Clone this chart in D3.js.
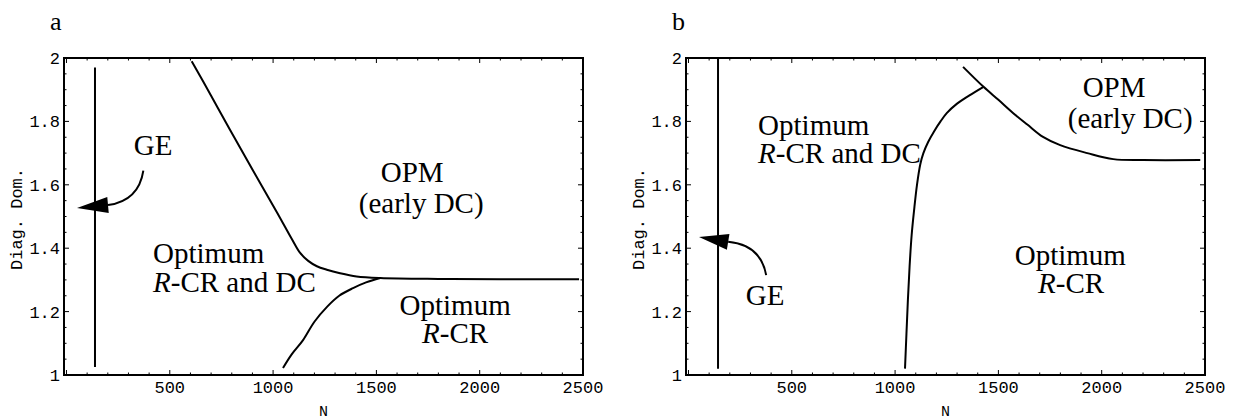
<!DOCTYPE html>
<html>
<head>
<meta charset="utf-8">
<script src="https://cdn.jsdelivr.net/npm/d3@7"></script>
<style>
  body { margin: 0; background: #fff; }
  .tick-label { font-family: "Liberation Mono", "DejaVu Sans Mono", monospace; font-size: 17px; fill: #000; }
  .region { font-family: "Liberation Serif", "DejaVu Serif", serif; font-size: 29px; fill: #000; }
  .panel-label { font-family: "Liberation Serif", serif; font-size: 26px; fill: #000; }
</style>
</head>
<body>
<div id="chart"></div>
<script>
var width = 1235;
var height = 420;

// axis ticks
var xTicks = [500, 1000, 1500, 2000, 2500];
var yTicks = [1, 1.2, 1.4, 1.6, 1.8, 2];
var xMinor = d3.range(0, 2501, 100);
var yMinor = d3.range(1, 2.001, 0.05);

// panel a : boundaries (N, diag. dom.)
var geLineA = [[138, 1.025], [138, 1.97]];
var opmBoundA = [[606, 1.99], [700, 1.881], [792, 1.773], [900, 1.648], [1019, 1.513],
  [1090, 1.43], [1131, 1.385], [1170, 1.36], [1212, 1.343], [1260, 1.332],
  [1324, 1.321], [1404, 1.311], [1519, 1.306], [1800, 1.303], [2100, 1.302], [2481, 1.302]];
var rcrBoundA = [[1048, 1.022], [1090, 1.065], [1145, 1.11], [1200, 1.168], [1261, 1.215],
  [1320, 1.25], [1387, 1.274], [1450, 1.292], [1519, 1.306]];
var arrowA = [[372, 1.645], [350, 1.55], [201, 1.536], [51, 1.527]]; // tail, ctrl, base, tip

// panel b
var geLineB = [[143, 1.02], [143, 2.0]];
var opmBoundB = [[1329, 1.972], [1428, 1.909], [1500, 1.868], [1572, 1.826], [1640, 1.79],
  [1716, 1.751], [1799, 1.725], [1930, 1.70], [2056, 1.681], [2200, 1.678], [2477, 1.678]];
var rcrBoundB = [[1048, 1.02], [1055, 1.13], [1062, 1.237], [1070, 1.34], [1080, 1.44],
  [1092, 1.52], [1106, 1.6], [1122, 1.665], [1137, 1.70], [1160, 1.735], [1190, 1.77],
  [1220, 1.80], [1250, 1.826], [1300, 1.856], [1360, 1.882], [1428, 1.909]];
var arrowB = [[376, 1.315], [350, 1.41], [192, 1.42], [51, 1.435]];

// region labels: text lines, anchor point in data units
var labelsA = [
  {t: "GE", n: 419, v: 1.694, a: "middle"},
  {t: "Optimum", n: 419, v: 1.353, a: "start"},
  {t: "R-CR and DC", n: 419, v: 1.262, a: "start"},
  {t: "OPM", n: 1673, v: 1.609, a: "middle"},
  {t: "(early DC)", n: 1717, v: 1.511, a: "middle"},
  {t: "Optimum", n: 1881, v: 1.189, a: "middle"},
  {t: "R-CR", n: 1881, v: 1.101, a: "middle"}
];
var labelsB = [
  {t: "Optimum", n: 337, v: 1.757, a: "start"},
  {t: "R-CR and DC", n: 337, v: 1.669, a: "start"},
  {t: "OPM", n: 2060, v: 1.877, a: "middle"},
  {t: "(early DC)", n: 2138, v: 1.779, a: "middle"},
  {t: "Optimum", n: 1848, v: 1.347, a: "middle"},
  {t: "R-CR", n: 1852, v: 1.259, a: "middle"},
  {t: "GE", n: 371, v: 1.221, a: "middle"}
];

var svg = d3.select("#chart")
  .append("svg")
  .attr("width", width)
  .attr("height", height);

var panels = [
  {name: "a", left: 64, right: 583, ge: geLineA, opm: opmBoundA, rcr: rcrBoundA, arrow: arrowA, labels: labelsA},
  {name: "b", left: 686, right: 1205, ge: geLineB, opm: opmBoundB, rcr: rcrBoundB, arrow: arrowB, labels: labelsB}
];
var plotTop = 58, plotBottom = 375;

panels.forEach(function(p) {
  var x = d3.scaleLinear().domain([-12, 2500]).range([p.left, p.right]);
  var y = d3.scaleLinear().domain([1, 2]).range([plotBottom, plotTop]);
  var g = svg.append("g").attr("class", "panel-" + p.name);

  // panel letter
  g.append("text").attr("class", "panel-label")
    .attr("x", p.left - 14).attr("y", 30).text(p.name);

  // frame
  g.append("rect")
    .attr("x", x.range()[0]).attr("y", plotTop)
    .attr("width", x.range()[1] - x.range()[0]).attr("height", plotBottom - plotTop)
    .attr("fill", "none").attr("stroke", "#000").attr("stroke-width", 2);

  // inward ticks, all four sides
  var tk = g.append("g").attr("stroke", "#000").attr("stroke-width", 1);
  xMinor.forEach(function(n) {
    var len = n % 500 === 0 ? 5 : 2.5;
    tk.append("line").attr("x1", x(n)).attr("x2", x(n)).attr("y1", plotBottom).attr("y2", plotBottom - len);
    tk.append("line").attr("x1", x(n)).attr("x2", x(n)).attr("y1", plotTop).attr("y2", plotTop + len);
  });
  yMinor.forEach(function(v, i) {
    var len = i % 4 === 0 ? 5 : 2.5;
    tk.append("line").attr("y1", y(v)).attr("y2", y(v)).attr("x1", x.range()[0]).attr("x2", x.range()[0] + len);
    tk.append("line").attr("y1", y(v)).attr("y2", y(v)).attr("x1", x.range()[1]).attr("x2", x.range()[1] - len);
  });

  // tick labels
  g.selectAll(".xl").data(xTicks).enter().append("text")
    .attr("class", "tick-label")
    .attr("x", function(d) { return x(d); })
    .attr("y", plotBottom + 18)
    .attr("text-anchor", "middle")
    .text(function(d) { return d; });
  g.selectAll(".yl").data(yTicks).enter().append("text")
    .attr("class", "tick-label")
    .attr("x", x.range()[0] - 4)
    .attr("y", function(d) { return y(d); })
    .attr("dy", "0.35em")
    .attr("text-anchor", "end")
    .text(function(d) { return d3.format("~g")(d); });

  // axis titles
  g.append("text").attr("class", "tick-label")
    .style("font-size", "15px")
    .attr("x", (x.range()[0] + x.range()[1]) / 2).attr("y", 416)
    .attr("text-anchor", "middle").text("N");
  g.append("text").attr("class", "tick-label")
    .attr("transform", "translate(" + (x.range()[0] - 42) + "," + 219 + ") rotate(-90)")
    .attr("text-anchor", "middle").text("Diag. Dom.");

  // boundaries
  var line = d3.line()
    .x(function(d) { return x(d[0]); })
    .y(function(d) { return y(d[1]); })
    .curve(d3.curveCatmullRom.alpha(0.5));
  [p.ge, p.opm, p.rcr].forEach(function(pts) {
    g.append("path").attr("d", line(pts))
      .attr("fill", "none").attr("stroke", "#000").attr("stroke-width", 2);
  });

  // GE arrow
  var a = p.arrow.map(function(d) { return [x(d[0]), y(d[1])]; });
  g.append("path")
    .attr("d", "M" + a[0] + "Q" + a[1] + " " + a[2])
    .attr("fill", "none").attr("stroke", "#000").attr("stroke-width", 2);
  var dx = a[3][0] - a[2][0], dy = a[3][1] - a[2][1];
  var L = Math.sqrt(dx * dx + dy * dy), hw = 8;
  var px = -dy / L * hw, py = dx / L * hw;
  g.append("path")
    .attr("d", "M" + a[3] + "L" + [a[2][0] + px, a[2][1] + py] + "L" + [a[2][0] - px, a[2][1] - py] + "Z")
    .attr("fill", "#000");

  // region labels
  p.labels.forEach(function(l) {
    var t = g.append("text").attr("class", "region")
      .attr("x", x(l.n)).attr("y", y(l.v))
      .attr("text-anchor", l.a);
    if (l.t.indexOf("R-") === 0) {
      t.append("tspan").style("font-style", "italic").text("R");
      t.append("tspan").text(l.t.slice(1));
    } else {
      t.text(l.t);
    }
  });
});
</script>
</body>
</html>
